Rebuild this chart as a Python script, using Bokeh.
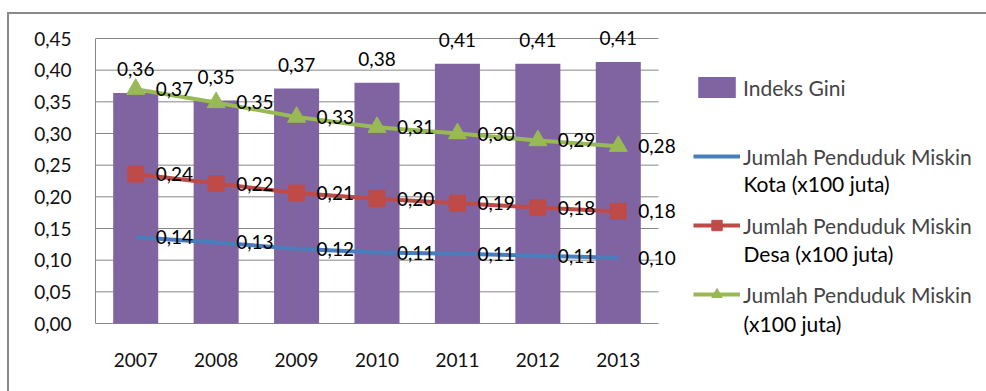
from bokeh.plotting import figure
from bokeh.models import (ColumnDataSource, Range1d, Legend, LegendItem, Label, FixedTicker,
                          CustomJSTickFormatter)
from bokeh.core.properties import value
from bokeh.embed import file_html
from bokeh.resources import INLINE

years = [2007, 2008, 2009, 2010, 2011, 2012, 2013]
gini = [0.364, 0.352, 0.371, 0.380, 0.410, 0.410, 0.413]
miskin_kota = [0.136, 0.128, 0.118, 0.112, 0.110, 0.107, 0.104]
miskin_desa = [0.236, 0.221, 0.206, 0.197, 0.190, 0.183, 0.177]
miskin_total = [0.370, 0.349, 0.326, 0.310, 0.300, 0.289, 0.280]
y_ticks = [0.00, 0.05, 0.10, 0.15, 0.20, 0.25, 0.30, 0.35, 0.40, 0.45]

legend_first = ["Indeks Gini", "Jumlah Penduduk Miskin", "Jumlah Penduduk Miskin", "Jumlah Penduduk Miskin"]
legend_second = ["", "Kota (x100 juta)", "Desa (x100 juta)", "(x100 juta)"]

def lab(v):
    return [f"{x:.2f}".replace(".", ",") for x in v]

src = ColumnDataSource(dict(
    year=years, gini=gini, kota=miskin_kota, desa=miskin_desa, total=miskin_total,
    gini_l=lab(gini), kota_l=lab(miskin_kota), desa_l=lab(miskin_desa), total_l=lab(miskin_total),
))

FONT = "Lato"
FS = "19px"
LFS = "21px"

# layout geometry (pixels)
px_x = 563 / 7          # pixels per category
px_y = 285 / 0.45       # pixels per unit value
x_lo = years[0] - 0.5
x_hi = years[-1] + 0.5
x_end = x_lo + 891 / px_x          # room on the right for the legend
y_lo = y_ticks[0] - 20 / px_y      # room below the zero line
y_hi = y_ticks[-1] + 24 / px_y     # room above the top gridline

p = figure(width=977, height=377, x_range=Range1d(x_lo, x_end),
           y_range=Range1d(y_lo, y_hi), output_backend="svg", toolbar_location=None,
           min_border_left=86, min_border_top=0, min_border_bottom=48, min_border_right=0)
p.styles = {"margin-left": "9px", "margin-top": "14px", "outline": "2px solid #8a8a8a"}
p.outline_line_color = None
p.background_fill_color = "white"
p.xgrid.grid_line_color = None
p.ygrid.grid_line_color = None

# horizontal gridlines (and zero line) limited to the category area
p.segment(x0=x_lo, x1=x_hi, y0=y_ticks, y1=y_ticks, line_color="#868686", line_width=1)

bars = p.vbar(x="year", top="gini", width=0.56, source=src, fill_color="#8064A2", line_color=None)
kl = p.line(x="year", y="kota", source=src, line_color="#4A7EBB", line_width=4)
dl = p.line(x="year", y="desa", source=src, line_color="#BE4B48", line_width=4)
dm = p.scatter(x="year", y="desa", source=src, marker="square", size=16,
               fill_color="#BE4B48", line_color="#BE4B48")
tl = p.line(x="year", y="total", source=src, line_color="#98B954", line_width=4)
tm = p.scatter(x="year", y="total", source=src, marker="triangle", size=18,
               fill_color="#98B954", line_color="#98B954")

common = dict(text_font=value(FONT), text_font_size=FS, text_color="#000000")
p.text(x="year", y="gini", text="gini_l", source=src, text_align="center",
       text_baseline="middle", y_offset=-24, **common)
for col in ["kota", "desa", "total"]:
    p.text(x="year", y=col, text=col + "_l", source=src, text_align="left",
           text_baseline="middle", x_offset=20, **common)

p.yaxis.ticker = FixedTicker(ticks=y_ticks)
p.yaxis.formatter = CustomJSTickFormatter(code="return tick.toFixed(2).replace('.', ',');")
p.yaxis.bounds = (y_ticks[0], y_ticks[-1])
p.xaxis.ticker = FixedTicker(ticks=years)
p.xaxis.formatter = CustomJSTickFormatter(code="return tick.toFixed(0);")
p.xaxis.axis_line_color = None
for ax in [p.xaxis[0], p.yaxis[0]]:
    ax.major_label_text_font = FONT
    ax.major_label_text_font_size = FS
    ax.major_label_text_color = "#111111"
    ax.major_tick_line_color = None
    ax.minor_tick_line_color = None
p.yaxis.axis_line_color = "#868686"
p.yaxis.major_label_standoff = 18
p.xaxis.major_label_standoff = 3

renderer_groups = [[bars], [kl], [dl, dm], [tl, tm]]
legend = Legend(items=[LegendItem(label=t, renderers=r) for t, r in zip(legend_first, renderer_groups)],
                location=(598, 36))
legend.label_text_font = FONT
legend.label_text_font_size = LFS
legend.label_height = 26
legend.border_line_color = None
legend.background_fill_alpha = 0
legend.glyph_width = 47
legend.glyph_height = 26
legend.label_standoff = 3
legend.spacing = 43
legend.margin = 0
legend.padding = 0
p.add_layout(legend)

# second lines of the legend labels
for i, t in enumerate(legend_second):
    if t:
        p.add_layout(Label(x=648, y=160 - 70 * (i - 1), x_units="screen", y_units="screen", text=t,
                           text_font=FONT, text_font_size=LFS, text_baseline="middle",
                           text_color="#000000"))

open("out.html", "w").write(file_html(p, INLINE))
